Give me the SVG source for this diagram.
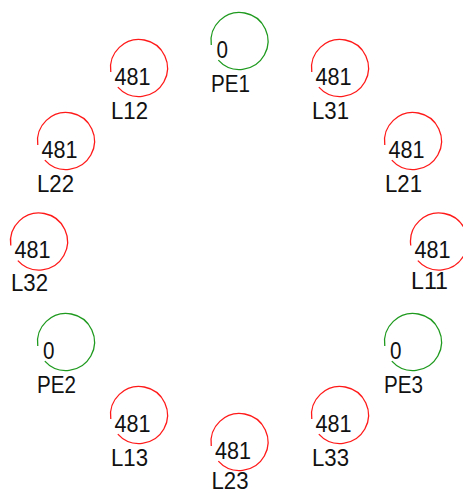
<svg xmlns="http://www.w3.org/2000/svg" xmlns:xlink="http://www.w3.org/1999/xlink" width="463" height="494" viewBox="0 0 463 494">
<style>
  .ring { fill: none; stroke-width: 1.3; }
  .red { stroke: #ff1a1a; }
  .green { stroke: #1f9a1f; }
  text { font-family: "Liberation Sans", Arial, sans-serif; font-size: 24px; fill: #111; }
</style>
<defs>
  <path id="ring" d="M-28.22 3.97 A28.5 28.5 0 1 1 -21.18 19.07"/>
</defs>
<rect width="463" height="494" fill="#fff"/>
<g id="connectors"></g>
<g id="PE1"><use href="#ring" class="ring green" x="239.5" y="41"/><text x="216.5" y="57.5" textLength="11.5" lengthAdjust="spacingAndGlyphs">0</text><text x="211" y="92" textLength="39" lengthAdjust="spacingAndGlyphs">PE1</text></g>
<g id="L31"><use href="#ring" class="ring red" x="340" y="68"/><text x="315.5" y="84.5" textLength="36" lengthAdjust="spacingAndGlyphs">481</text><text x="312" y="119" textLength="37" lengthAdjust="spacingAndGlyphs">L31</text></g>
<g id="L21"><use href="#ring" class="ring red" x="413" y="141"/><text x="388.5" y="157.5" textLength="36" lengthAdjust="spacingAndGlyphs">481</text><text x="385" y="192" textLength="37" lengthAdjust="spacingAndGlyphs">L21</text></g>
<g id="L11"><use href="#ring" class="ring red" x="439" y="241.5"/><text x="414.5" y="258" textLength="36" lengthAdjust="spacingAndGlyphs">481</text><text x="411" y="289" textLength="37" lengthAdjust="spacingAndGlyphs">L11</text></g>
<g id="PE3"><use href="#ring" class="ring green" x="413" y="342"/><text x="390" y="358.5" textLength="11.5" lengthAdjust="spacingAndGlyphs">0</text><text x="384" y="393" textLength="39" lengthAdjust="spacingAndGlyphs">PE3</text></g>
<g id="L33"><use href="#ring" class="ring red" x="340" y="415"/><text x="315.5" y="431.5" textLength="36" lengthAdjust="spacingAndGlyphs">481</text><text x="312" y="466" textLength="37" lengthAdjust="spacingAndGlyphs">L33</text></g>
<g id="L23"><use href="#ring" class="ring red" x="239.5" y="442"/><text x="215" y="458.5" textLength="36" lengthAdjust="spacingAndGlyphs">481</text><text x="211.5" y="488.5" textLength="37" lengthAdjust="spacingAndGlyphs">L23</text></g>
<g id="L13"><use href="#ring" class="ring red" x="139" y="415"/><text x="114.5" y="431.5" textLength="36" lengthAdjust="spacingAndGlyphs">481</text><text x="111" y="466" textLength="37" lengthAdjust="spacingAndGlyphs">L13</text></g>
<g id="PE2"><use href="#ring" class="ring green" x="66" y="342"/><text x="43" y="358.5" textLength="11.5" lengthAdjust="spacingAndGlyphs">0</text><text x="37" y="393" textLength="39" lengthAdjust="spacingAndGlyphs">PE2</text></g>
<g id="L32"><use href="#ring" class="ring red" x="39" y="241.5"/><text x="14.5" y="258" textLength="36" lengthAdjust="spacingAndGlyphs">481</text><text x="11" y="291" textLength="37" lengthAdjust="spacingAndGlyphs">L32</text></g>
<g id="L22"><use href="#ring" class="ring red" x="66" y="141"/><text x="41.5" y="157.5" textLength="36" lengthAdjust="spacingAndGlyphs">481</text><text x="37" y="192" textLength="37" lengthAdjust="spacingAndGlyphs">L22</text></g>
<g id="L12"><use href="#ring" class="ring red" x="139" y="68"/><text x="114.5" y="84.5" textLength="36" lengthAdjust="spacingAndGlyphs">481</text><text x="111" y="119" textLength="37" lengthAdjust="spacingAndGlyphs">L12</text></g>
</svg>
